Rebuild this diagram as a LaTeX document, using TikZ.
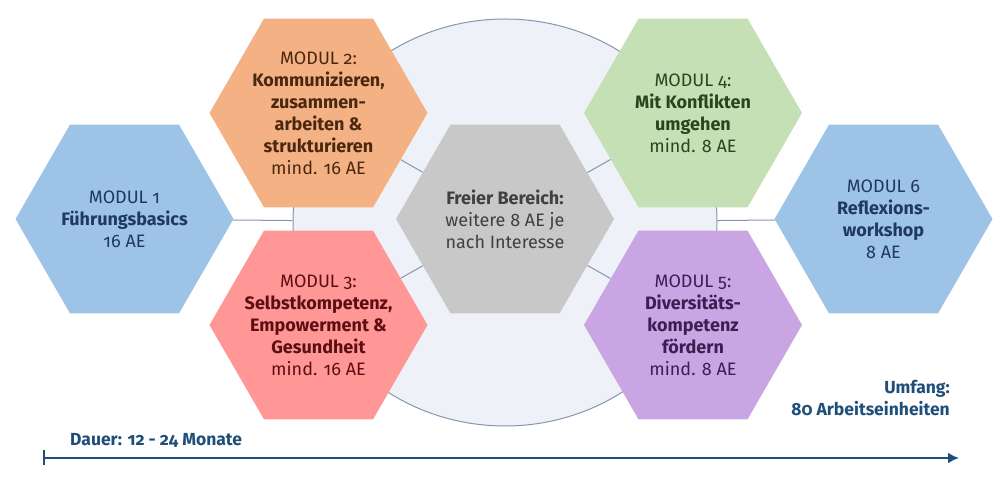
\documentclass[tikz,border=0pt]{standalone}
\usepackage{fontspec}
\setmainfont{Fira Sans}[Numbers=OldStyle]
\usetikzlibrary{shapes.geometric,arrows.meta}
\definecolor{kreisfill}{HTML}{EEF1F7}
\definecolor{kreisline}{HTML}{8497B0}
\definecolor{hexblue}{HTML}{9DC3E6}
\definecolor{hexorange}{HTML}{F4B183}
\definecolor{hexred}{HTML}{FF9797}
\definecolor{hexgray}{HTML}{C8C8C8}
\definecolor{hexgreen}{HTML}{C5E0B4}
\definecolor{hexpurple}{HTML}{C9A6E3}
\definecolor{txtblue}{HTML}{1F3864}
\definecolor{txtbrown}{HTML}{4A2810}
\definecolor{txtred}{HTML}{5C0E12}
\definecolor{txtgray}{HTML}{404040}
\definecolor{txtgreen}{HTML}{2B4420}
\definecolor{txtpurple}{HTML}{3D1D52}
\definecolor{axisblue}{HTML}{1F4E79}
\tikzset{
HEX/.style ={regular polygon,regular polygon sides=6,minimum size=218pt,inner sep=-45pt,draw=none,fill=#1,align=center,font=\fontsize{18}{22}\selectfont},
HEX/.default = hexblue,
LINK/.style ={draw=kreisline,line width=1pt},
AXIS/.style ={draw=axisblue,line width=2.3pt},
AXISTEXT/.style ={text=axisblue,font=\fontsize{17.5}{22}\selectfont\bfseries},
}
\begin{document}
\begin{tikzpicture}
[x=1pt,y=1pt]
	\useasboundingbox (0,0) rectangle (1000,481);
	%Circle
	\node[ellipse,draw=kreisline,fill=kreisfill,line width=1pt,minimum width=424pt,minimum height=407pt,inner sep=0pt] (kreis) at (505,258.5) {};
	%Modules
	\node[HEX=hexblue,text=txtblue] (m1) at (124.5,262) {MODUL 1\\\textbf{Führungsbasics}\\16 AE};
	\node[HEX=hexorange,text=txtbrown] (m2) at (318.5,368) {MODUL 2:\\\textbf{Kommunizieren,}\\\textbf{zusammen-}\\\textbf{arbeiten \&}\\\textbf{strukturieren}\\mind. 16 AE};
	\node[HEX=hexred,text=txtred] (m3) at (318.5,156) {MODUL 3:\\\textbf{Selbstkompetenz,}\\\textbf{Empowerment \&}\\\textbf{Gesundheit}\\mind. 16 AE};
	\node[HEX=hexgray,text=txtgray] (frei) at (505,262) {\textbf{Freier Bereich:}\\weitere 8 AE je\\nach Interesse};
	\node[HEX=hexgreen,text=txtgreen] (m4) at (693,368) {MODUL 4:\\\textbf{Mit Konflikten}\\\textbf{umgehen}\\mind. 8 AE};
	\node[HEX=hexpurple,text=txtpurple] (m5) at (693,156) {MODUL 5:\\\textbf{Diversitäts-}\\\textbf{kompetenz}\\\textbf{fördern}\\mind. 8 AE};
	\node[HEX=hexblue,text=txtblue] (m6) at (883.5,262) {MODUL 6\\\textbf{Reflexions-}\\\textbf{workshop}\\8 AE};
	%Links
	\path[LINK] (m1) -- (kreis);
	\path[LINK] (m6) -- (kreis);
	\foreach \m in {m2,m3,m4,m5}
		\path[LINK] (frei) -- (\m);
	%Time axis
	\coordinate (start) at (42.7,23);
	\coordinate (ende) at (959,23);
	\path[AXIS,{Bar[width=15pt]}-{Latex[length=11pt,width=11pt]}] (start) -- (ende);
	\node[AXISTEXT,anchor=base west,inner sep=0pt] (dauer) at (70,35.3) {Dauer: 12 - 24 Monate};
	\node[AXISTEXT,anchor=base east,align=right,inner sep=0pt] (umfang) at (950,65.3) {Umfang:\\80 Arbeitseinheiten};
\end{tikzpicture}
\end{document}
